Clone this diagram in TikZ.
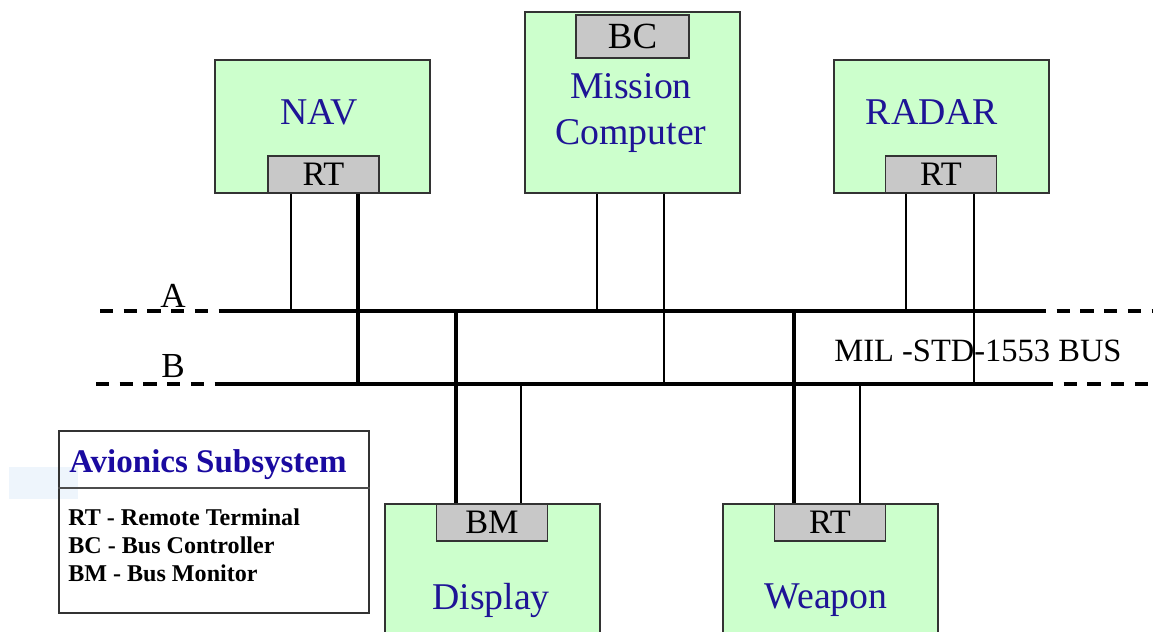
\documentclass[tikz,border=0pt]{standalone}
\usepackage{fontspec}
\setmainfont{Liberation Serif}
\usetikzlibrary{positioning}
\definecolor{boxgreen}{HTML}{CCFFCC}
\definecolor{rtgray}{HTML}{C8C8C8}
\definecolor{labelblue}{HTML}{1E1496}
\definecolor{titleblue}{HTML}{1A0AA0}
\definecolor{paleblue}{HTML}{EEF5FC}
\def\pxu{0.02cm}

\begin{document}
\begin{tikzpicture}[x=0.02cm, y=-0.02cm]
    \tikzset{
        unitbox/.style={
            draw=black!80,
            fill=boxgreen,
            line width=0.8pt,
            minimum width=215*\pxu,
            inner sep=0pt
        },
        termbox/.style={
            draw=black!80,
            fill=rtgray,
            line width=0.8pt,
            minimum width=111*\pxu,
            minimum height=37*\pxu,
            inner sep=0pt,
            font=\fontsize{19.5}{21}\selectfont
        },
        unitlab/.style={
            text=labelblue,
            align=center,
            font=\fontsize{21.5}{26}\selectfont
        },
        busline/.style={line width=2.1pt},
        busdash/.style={line width=2.1pt, dash pattern=on 7.5pt off 6pt},
        tapthin/.style={line width=1.3pt},
        tapthick/.style={line width=2.1pt},
        buslab/.style={font=\fontsize{20}{24}\selectfont},
        keytext/.style={
            font=\bfseries\fontsize{13.7}{16.2}\selectfont,
            align=left,
            anchor=north west,
            inner sep=0pt
        }
    }
    \clip (0,0) rectangle (1153,632);

    % Delsystemer
    \node[unitbox, minimum height=133*\pxu] (nav)   at (322.5,126.5) {};
    \node[unitbox, minimum height=181*\pxu] (mc)    at (632.5,102.5) {};
    \node[unitbox, minimum height=133*\pxu] (radar) at (941.5,126.5) {};
    \node[unitbox, minimum height=140*\pxu] (disp)  at (492.5,574)   {};
    \node[unitbox, minimum height=140*\pxu] (weap)  at (830.5,574)   {};

    \node[unitlab] (navlab)   at (319,112) {NAV};
    \node[unitlab] (mclab)    at (631,113) {Mission\\Computer};
    \node[unitlab] (radarlab) at (932,112) {RADAR};
    \node[unitlab] (displab)  at (491,600) {Display};
    \node[unitlab] (weaplab)  at (826,600) {Weapon};

    % Terminaler
    \node[termbox] (navrt)   at (323.5,174.5) {RT};
    \node[termbox, minimum width=113*\pxu, minimum height=43*\pxu,
          font=\fontsize{21}{23}\selectfont] (mcbc) at (632.5,36.5) {BC};
    \node[termbox] (radarrt) at (941,174.5)   {RT};
    \node[termbox] (dispbm)  at (492,522.5)   {BM};
    \node[termbox] (weaprt)  at (830,522.5)   {RT};

    % Buss A og B
    \coordinate (Aw) at (100,311);
    \coordinate (Al) at (222,311);
    \coordinate (Ar) at (1033,311);
    \coordinate (Ae) at (1153,311);
    \coordinate (Bw) at (96,384);
    \coordinate (Bl) at (217,384);
    \coordinate (Br) at (1040,384);
    \coordinate (Be) at (1153,384);
    \draw[busdash] (Aw) -- (Al);
    \draw[busline] (Al) -- (Ar);
    \draw[busdash] (Ar) -- (Ae);
    \draw[busdash] (Bw) -- (Bl);
    \draw[busline] (Bl) -- (Br);
    \draw[busdash] (Br) -- (Be);

    \node[buslab] (labA) at (173,296) {A};
    \node[buslab] (labB) at (173,366) {B};
    \node[font=\fontsize{18.5}{22}\selectfont] (buslabel) at (978,351) {MIL -STD-1553 BUS};

    % Tilkoblinger
    \coordinate (navA)  at (291,311);
    \coordinate (navB)  at (358,384);
    \coordinate (mcA)   at (597,311);
    \coordinate (mcB)   at (664,384);
    \coordinate (radA)  at (906,311);
    \coordinate (radB)  at (974,384);
    \coordinate (dispA) at (456,311);
    \coordinate (dispB) at (521,384);
    \coordinate (weapA) at (794,311);
    \coordinate (weapB) at (860,384);

    \draw[tapthin]  (navA |- navrt.south) -- (navA);
    \draw[tapthick] (navB |- navrt.south) -- (navB);
    \draw[tapthin]  (mcA |- mc.south) -- (mcA);
    \draw[tapthin]  (mcB |- mc.south) -- (mcB);
    \draw[tapthin]  (radA |- radarrt.south) -- (radA);
    \draw[tapthin]  (radB |- radarrt.south) -- (radB);
    \draw[tapthick] (dispA) -- (dispA |- dispbm.north);
    \draw[tapthin]  (dispB) -- (dispB |- dispbm.north);
    \draw[tapthick] (weapA) -- (weapA |- weaprt.north);
    \draw[tapthin]  (weapB) -- (weapB |- weaprt.north);

    % Forklaring
    \fill[paleblue] (9,467) rectangle (78,499);
    \node[draw=black!80, line width=0.8pt, minimum width=310*\pxu,
          minimum height=182*\pxu, inner sep=0pt] (legend) at (214,522) {};
    \coordinate (legsplit) at (0,488);
    \draw[black!70, line width=0.8pt] (legend.west |- legsplit) -- (legend.east |- legsplit);
    \node[font=\bfseries\fontsize{18.8}{21}\selectfont, text=titleblue] (legtitle) at (208,465) {Avionics Subsystem};
    \node[keytext] (legkey) at (68,508) {RT - Remote Terminal\\BC - Bus Controller\\BM - Bus Monitor};
\end{tikzpicture}
\end{document}
